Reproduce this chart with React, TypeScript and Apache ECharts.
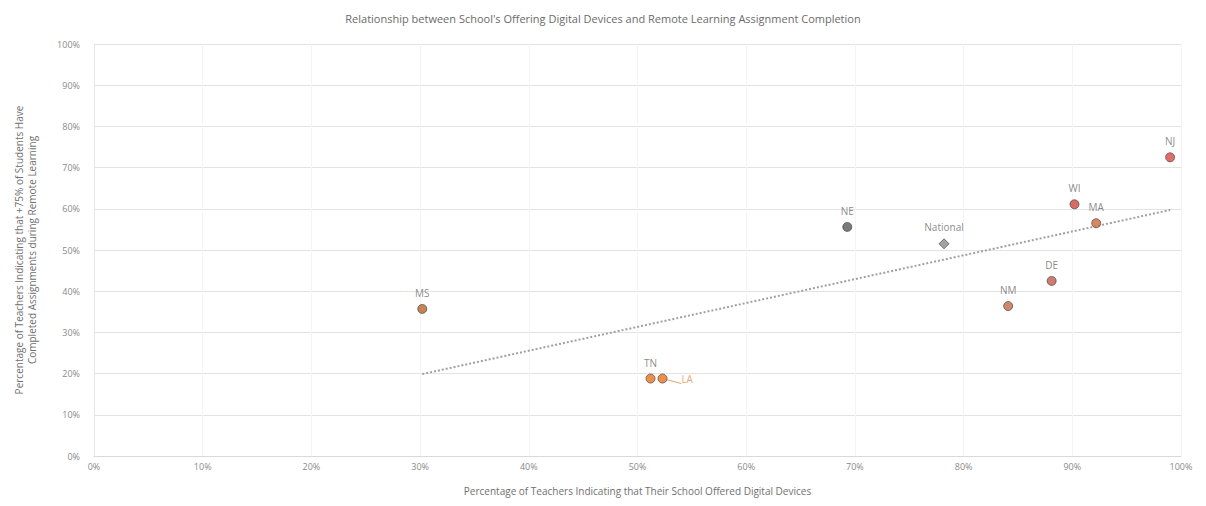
import React, { useEffect, useRef } from "react";
import * as echarts from "echarts";

const TITLE =
  "Relationship between School's Offering Digital Devices and Remote Learning Assignment Completion";
const X_NAME = "Percentage of Teachers Indicating that Their School Offered Digital Devices";
const Y_NAME_LINES = [
  "Percentage of Teachers Indicating that +75% of Students Have",
  "Completed Assignments during Remote Learning",
];

const states = ["MS", "TN", "LA", "NE", "National", "NM", "DE", "WI", "MA", "NJ"];
const xValues = [30.2, 51.2, 52.3, 69.3, 78.2, 84.1, 88.1, 90.2, 92.2, 99.0];
const yValues = [35.7, 18.8, 18.8, 55.6, 51.5, 36.4, 42.5, 61.1, 56.5, 72.5];

const pointColors: Record<string, string> = {
  MS: "#b8662a",
  TN: "#e8731f",
  LA: "#e8731f",
  NE: "#595959",
  National: "#8c8c8c",
  NM: "#c06a45",
  DE: "#c55a4a",
  WI: "#d0463e",
  MA: "#d06a3a",
  NJ: "#d64a45",
};

function regression(xs: number[], ys: number[]) {
  const n = xs.length;
  const mx = xs.reduce((a, b) => a + b, 0) / n;
  const my = ys.reduce((a, b) => a + b, 0) / n;
  let sxy = 0;
  let sxx = 0;
  for (let i = 0; i < n; i++) {
    sxy += (xs[i] - mx) * (ys[i] - my);
    sxx += (xs[i] - mx) * (xs[i] - mx);
  }
  const slope = sxy / sxx;
  return { slope, intercept: my - slope * mx };
}

export default function App() {
  const ref = useRef<HTMLDivElement>(null);
  useEffect(() => {
    if (!ref.current) return;
    const chart = echarts.init(ref.current, undefined, { renderer: "svg" });
    const { slope, intercept } = regression(xValues, yValues);
    const xmin = Math.min(...xValues);
    const xmax = Math.max(...xValues);
    const trend = [
      [xmin, intercept + slope * xmin],
      [xmax, intercept + slope * xmax],
    ];
    const points = states.map((s, i) => {
      const isLA = s === "LA";
      return {
        name: s,
        value: [xValues[i], yValues[i]],
        symbol: s === "National" ? "diamond" : "circle",
        symbolSize: s === "National" ? 10 : 9,
        itemStyle: {
          color: pointColors[s],
          borderColor: "#3a3a3a",
          borderWidth: 0.8,
        },
        label: isLA
          ? { position: "right", distance: 14, color: "#d9904f" }
          : { position: "top", distance: 6 },
        labelLine: isLA ? { show: true, lineStyle: { color: "#e8a070", width: 1 } } : undefined,
      };
    });
    chart.setOption({
      animation: false,
      backgroundColor: "#ffffff",
      title: {
        text: TITLE,
        left: "center",
        top: 8,
        textStyle: {
          fontSize: 11,
          fontWeight: "normal",
          color: "#6b6b6b",
          fontFamily: "Open Sans",
        },
      },
      grid: { left: 94, right: 25, top: 44, bottom: 50 },
      xAxis: {
        type: "value",
        min: 0,
        max: 100,
        interval: 10,
        name: X_NAME,
        nameLocation: "middle",
        nameGap: 30,
        nameTextStyle: { fontSize: 10, color: "#707070", fontFamily: "Open Sans" },
        axisLine: { show: true, lineStyle: { color: "#d9d9d9" } },
        axisTick: { show: false },
        axisLabel: {
          formatter: (v: number) => v + "%",
          fontSize: 9,
          color: "#8a8a8a",
          margin: 6,
          fontFamily: "Open Sans",
        },
        splitLine: { show: true, lineStyle: { color: "#f4f4f4" } },
      },
      yAxis: {
        type: "value",
        min: 0,
        max: 100,
        interval: 10,
        name: Y_NAME_LINES.join("\n"),
        nameLocation: "middle",
        nameGap: 56,
        nameTextStyle: {
          fontSize: 10,
          color: "#707070",
          lineHeight: 13,
          fontFamily: "Open Sans",
        },
        axisLine: { show: true, lineStyle: { color: "#e6e6e6" } },
        axisTick: { show: false },
        axisLabel: {
          formatter: (v: number) => v + "%",
          fontSize: 9,
          color: "#8a8a8a",
          margin: 14,
          fontFamily: "Open Sans",
        },
        splitLine: { show: true, lineStyle: { color: "#e3e3e3" } },
      },
      series: [
        {
          type: "line",
          data: trend,
          symbol: "none",
          silent: true,
          lineStyle: { color: "#a0a0a0", width: 2, type: "dotted" },
          z: 1,
        },
        {
          type: "scatter",
          data: points,
          z: 3,
          label: {
            show: true,
            formatter: "{b}",
            fontSize: 10,
            color: "#6b6b6b",
            fontFamily: "Open Sans",
          },
        },
      ],
    });
    return () => chart.dispose();
  }, []);
  return <div ref={ref} style={{ width: 1206, height: 506, position: "absolute", left: 0, top: 0 }} />;
}
